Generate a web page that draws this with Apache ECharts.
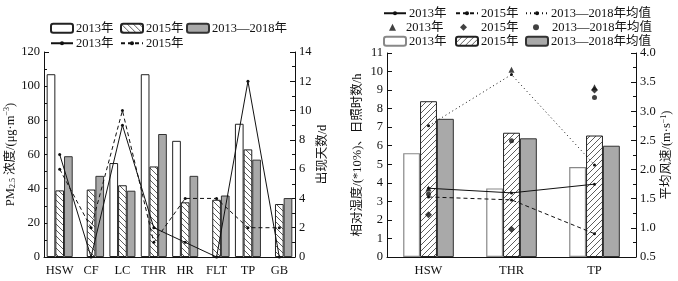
<!DOCTYPE html>
<html>
<head>
<meta charset="utf-8">
<script src="https://cdn.jsdelivr.net/npm/echarts@6/dist/echarts.min.js"></script>
<style>
  html, body { margin: 0; padding: 0; background: #fff; }
  #main { width: 678px; height: 281px; }
</style>
</head>
<body>
<div id="main"></div>
<script>
// 左图：PM2.5 浓度与出现天数
const cats1 = ['HSW', 'CF', 'LC', 'THR', 'HR', 'FLT', 'TP', 'GB'];
const pm2013 = [107, null, 55, 107, 68, null, 78, null];
const pm2015 = [39, 39.5, 42, 53, 32, 33.5, 63, 31];
const pmMean = [59, 47.5, 38.8, 72, 47.5, 36, 57, 34.5];
const days2013 = [7, 0, 9, 2, 1, 0, 12, 0];
const days2015 = [6, 2, 10, 1, 4, 4, 2, 2];

// 右图：相对湿度、日照时数、平均风速
const cats2 = ['HSW', 'THR', 'TP'];
const rh2013 = [5.6, 3.7, 4.85];
const rh2015 = [8.4, 6.7, 6.55];
const rhMean = [7.45, 6.4, 6.0];
const sun2013 = [3.7, 10.1, 9.15];
const sun2015 = [2.28, 1.5, 9.0];
const sunMean = [3.4, 6.27, 8.6];
const ws2013 = [1.68, 1.6, 1.75];
const ws2015 = [1.53, 1.48, 0.9];
const wsMean = [2.75, 3.63, 2.08];

const FONT = "'Liberation Serif', 'Noto Sans CJK SC', serif";

// 斜线填充
function hatch(dir, size) {
  const c = document.createElement('canvas');
  c.width = size; c.height = size;
  const ctx = c.getContext('2d');
  ctx.fillStyle = '#fff';
  ctx.fillRect(0, 0, size, size);
  ctx.strokeStyle = '#333';
  ctx.lineWidth = 0.8;
  ctx.beginPath();
  if (dir === '/') {
    ctx.moveTo(0, size); ctx.lineTo(size, 0);
    ctx.moveTo(-1, 1); ctx.lineTo(1, -1);
    ctx.moveTo(size - 1, size + 1); ctx.lineTo(size + 1, size - 1);
  } else {
    ctx.moveTo(0, 0); ctx.lineTo(size, size);
    ctx.moveTo(-1, size - 1); ctx.lineTo(1, size + 1);
    ctx.moveTo(size - 1, -1); ctx.lineTo(size + 1, 1);
  }
  ctx.stroke();
  return { image: c, repeat: 'repeat' };
}

const names = {
  b13: '2013年', b15: '2015年', bm: '2013\u20142018年',
  l13: '2013年', l15: '2015年',
  rl13: '2013年', rl15: '2015年', rlm: '2013\u20142018年均值',
  rs13: '2013年', rs15: '2015年', rsm: '2013\u20142018年均值',
  rb13: '2013年', rb15: '2015年', rbm: '2013\u20142018年均值'
};

// 每个图例单独定位
function leg(name, left, top, w, h, pad) {
  return {
    data: [name], left: left, top: top, orient: 'horizontal',
    itemWidth: w || 22, itemHeight: h || 9, itemGap: 0, padding: 0,
    selectedMode: false,
    formatter: n => names[n],
    textStyle: { fontFamily: FONT, fontSize: 12.5, color: '#111', padding: [0, 0, 0, pad || -2] }
  };
}

const axisLine = { show: true, lineStyle: { color: '#111', width: 1 } };
const tickLabel = { fontFamily: FONT, fontSize: 12.5, color: '#111' };

function yAxis(o) {
  return Object.assign({
    type: 'value',
    axisLine: axisLine,
    axisTick: { show: true, inside: true, length: 5, lineStyle: { color: '#111' } },
    axisLabel: Object.assign({ margin: 4 }, tickLabel),
    splitLine: { show: false },
    nameLocation: 'middle',
    nameRotate: 90,
    nameTextStyle: { fontFamily: FONT, fontSize: 12.5, color: '#111' }
  }, o);
}

function xAxis(grid, data) {
  return {
    type: 'category', gridIndex: grid, data: data,
    axisLine: axisLine, axisTick: { show: false },
    axisLabel: Object.assign({ margin: 7, interval: 0 }, tickLabel)
  };
}

const whiteBar = { color: '#fff', borderColor: '#222', borderWidth: 1 };
const greyBar = { color: '#a9a9a9', borderColor: '#333', borderWidth: 1 };

const chart = echarts.init(document.getElementById('main'), null, { renderer: 'canvas' });
chart.setOption({
  animation: false,
  backgroundColor: '#fff',
  grid: [
    { left: 44, right: 383, top: 52, bottom: 24 },
    { left: 387, right: 42, top: 53, bottom: 24 }
  ],
  legend: [
    leg('b13', 50, 22), leg('b15', 120, 22), leg('bm', 186, 22),
    leg('l13', 50, 37, 22, 5), leg('l15', 120, 37, 22, 5),
    leg('rl13', 383, 7, 22, 5), leg('rl15', 455, 7, 22, 5), leg('rlm', 525, 7, 22, 5),
    leg('rs13', 389, 21, 7, 7, 5), leg('rs15', 460, 21, 7, 7, 9), leg('rsm', 533, 21, 6, 6, 8),
    leg('rb13', 383, 35), leg('rb15', 455, 35), leg('rbm', 525, 35)
  ],
  xAxis: [xAxis(0, cats1), xAxis(1, cats2)],
  yAxis: [
    yAxis({
      gridIndex: 0, min: 0, max: 120, interval: 20,
      minorTick: { show: true, splitNumber: 2, length: 3, lineStyle: { color: '#111' } },
      name: '{t|PM}{s|2.5}{t| 浓度/(μg·m}{p|−3}{t|)}',
      nameGap: 25,
      nameTextStyle: {
        fontFamily: FONT, fontSize: 12.5, color: '#111',
        rich: {
          t: { fontFamily: FONT, fontSize: 12.5, color: '#111' },
          s: { fontFamily: FONT, fontSize: 8, color: '#111', padding: [6, 0, 0, 0] },
          p: { fontFamily: FONT, fontSize: 8, color: '#111', padding: [0, 0, 6, 0] }
        }
      }
    }),
    yAxis({
      gridIndex: 0, min: 0, max: 14, interval: 2, position: 'right',
      minorTick: { show: true, splitNumber: 2, length: 3, lineStyle: { color: '#111' } },
      name: '出现天数/d', nameGap: 21
    }),
    yAxis({
      gridIndex: 1, min: 0, max: 11, interval: 1,
      name: '相对湿度/(*10%)、日照时数/h', nameGap: 23
    }),
    yAxis({
      gridIndex: 1, min: 0.5, max: 4.0, interval: 0.5, position: 'right',
      minorTick: { show: true, splitNumber: 2, length: 3, lineStyle: { color: '#111' } },
      axisLabel: Object.assign({ margin: 4, formatter: v => v.toFixed(1) }, tickLabel),
      name: '{t|平均风速/(m·s}{p|−1}{t|)}', nameGap: 21,
      nameTextStyle: {
        fontFamily: FONT, fontSize: 12.5, color: '#111',
        rich: {
          t: { fontFamily: FONT, fontSize: 12.5, color: '#111' },
          p: { fontFamily: FONT, fontSize: 8, color: '#111', padding: [0, 0, 6, 0] }
        }
      }
    })
  ],
  series: [
    // 左图柱
    { name: 'b13', type: 'bar', xAxisIndex: 0, yAxisIndex: 0, data: pm2013,
      barGap: '0%', barCategoryGap: '17%', itemStyle: whiteBar },
    { name: 'b15', type: 'bar', xAxisIndex: 0, yAxisIndex: 0, data: pm2015,
      itemStyle: { color: hatch('\\', 6), borderColor: '#222', borderWidth: 1 } },
    { name: 'bm', type: 'bar', xAxisIndex: 0, yAxisIndex: 0, data: pmMean, itemStyle: greyBar },
    // 左图线
    { name: 'l13', type: 'line', xAxisIndex: 0, yAxisIndex: 1, data: days2013, z: 5,
      symbol: 'circle', symbolSize: 3, itemStyle: { color: '#111' },
      lineStyle: { color: '#111', width: 1 } },
    { name: 'l15', type: 'line', xAxisIndex: 0, yAxisIndex: 1, data: days2015, z: 5,
      symbol: 'circle', symbolSize: 3, itemStyle: { color: '#111' },
      lineStyle: { color: '#111', width: 1, type: [4, 3] } },
    // 右图柱
    { name: 'rb13', type: 'bar', xAxisIndex: 1, yAxisIndex: 2, data: rh2013,
      barGap: '0%', barCategoryGap: '39%',
      itemStyle: { color: '#fff', borderColor: '#888', borderWidth: 1.2 } },
    { name: 'rb15', type: 'bar', xAxisIndex: 1, yAxisIndex: 2, data: rh2015,
      itemStyle: { color: hatch('/', 6), borderColor: '#222', borderWidth: 1 } },
    { name: 'rbm', type: 'bar', xAxisIndex: 1, yAxisIndex: 2, data: rhMean, itemStyle: greyBar },
    // 右图散点（日照时数）
    { name: 'rs13', type: 'scatter', xAxisIndex: 1, yAxisIndex: 2, data: sun2013, z: 6,
      symbol: 'triangle', symbolSize: 6, itemStyle: { color: '#111' } },
    { name: 'rs15', type: 'scatter', xAxisIndex: 1, yAxisIndex: 2, data: sun2015, z: 6,
      symbol: 'diamond', symbolSize: 7, itemStyle: { color: '#111' } },
    { name: 'rsm', type: 'scatter', xAxisIndex: 1, yAxisIndex: 2, data: sunMean, z: 6,
      symbol: 'circle', symbolSize: 5, itemStyle: { color: '#111' } },
    // 右图线（平均风速）
    { name: 'rl13', type: 'line', xAxisIndex: 1, yAxisIndex: 3, data: ws2013, z: 5,
      symbol: 'circle', symbolSize: 3, itemStyle: { color: '#111' },
      lineStyle: { color: '#111', width: 1 } },
    { name: 'rl15', type: 'line', xAxisIndex: 1, yAxisIndex: 3, data: ws2015, z: 5,
      symbol: 'circle', symbolSize: 3, itemStyle: { color: '#111' },
      lineStyle: { color: '#111', width: 1, type: [4, 3] } },
    { name: 'rlm', type: 'line', xAxisIndex: 1, yAxisIndex: 3, data: wsMean, z: 5,
      symbol: 'circle', symbolSize: 3, itemStyle: { color: '#111' },
      lineStyle: { color: '#111', width: 1, type: [1, 3] } }
  ]
});
</script>
</body>
</html>
